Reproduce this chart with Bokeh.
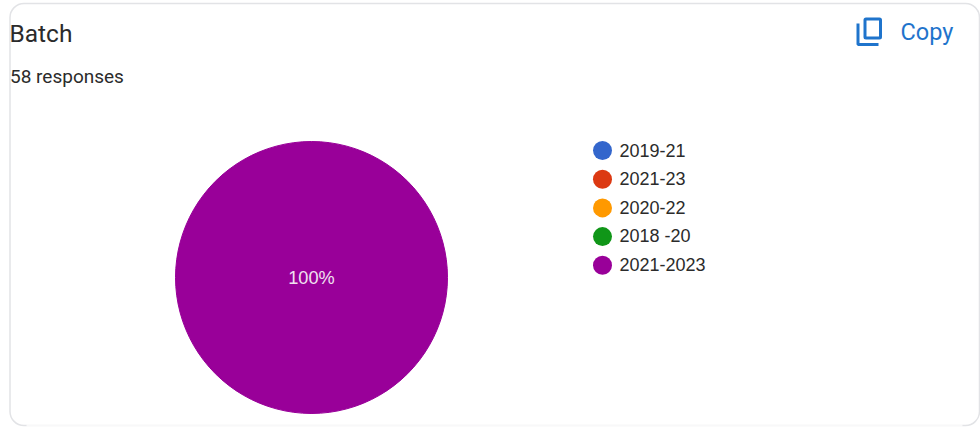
import math
from bokeh.plotting import figure
from bokeh.models import Range1d
from bokeh.embed import file_html
from bokeh.resources import INLINE
from bokeh.core.properties import value

title = "Batch"
subtitle = "58 responses"
copy_label = "Copy"
categories = ["2019-21", "2021-23", "2020-22", "2018 -20", "2021-2023"]
counts = [0, 0, 0, 0, 58]
colors = ["#3366cc", "#dc3912", "#ff9900", "#109618", "#990099"]

W, H = 980, 428
p = figure(width=W, height=H, output_backend="svg", toolbar_location=None,
           x_range=Range1d(0, W), y_range=Range1d(H, 0),
           min_border=0)
p.axis.visible = False
p.grid.visible = False
p.outline_line_color = None
p.background_fill_color = "white"
p.border_fill_color = "white"

# card
p.quad(left=[9.5], right=[979], top=[3], bottom=[425], fill_color="white",
       line_color="#e2e3e6", line_width=1.5, border_radius=14)
p.line([26, 962], [425, 425], line_color="white", line_width=2, line_alpha=0.75)

# texts
p.text([9], [33], text=[title], text_font=value("Roboto"), text_font_size="24.5px",
       text_color="#2b2b2b", text_baseline="middle")
p.text([9.5], [76], text=[subtitle], text_font=value("Roboto"), text_font_size="19px",
       text_color="#2b2b2b", text_baseline="middle")
p.text([900], [31.5], text=[copy_label], text_font=value("Roboto"), text_font_size="23.5px",
       text_color="#1f74cc", text_baseline="middle")

# copy icon
BLUE = "#1f74cc"
p.quad(left=[864.5], right=[880], top=[18.5], bottom=[37.5], fill_color=None,
       line_color=BLUE, line_width=3, border_radius=1)
p.line([857.5, 857.5, 878], [23, 44, 44], line_color=BLUE, line_width=3)

# pie
cx, cy, r = 311, 277, 136
total = sum(counts)
a = -math.pi / 2
for c, col in zip(counts, colors):
    b = a + 2 * math.pi * c / total
    if c:
        p.wedge([cx], [cy], radius=r, start_angle=a, end_angle=b - 1e-6,
                fill_color=col, line_color=col)
    a = b
for c in counts:
    if c:
        p.text([cx], [cy], text=[f"{100 * c / total:.0f}%"],
               text_font=value("Liberation Sans"), text_font_size="18.2px",
               text_color="#f0e0f0", text_align="center", text_baseline="middle")

# legend
for i, (cat, col) in enumerate(zip(categories, colors)):
    y = 150 + 28.7 * i
    p.scatter([602], [y], size=19, marker="circle", fill_color=col, line_color=col, line_width=0)
    p.text([619], [y - 0.5], text=[cat], text_font=value("Liberation Sans"), text_font_size="18px",
           text_color="#2b2b2b", text_baseline="middle")

open("out.html", "w").write(file_html(p, INLINE))
